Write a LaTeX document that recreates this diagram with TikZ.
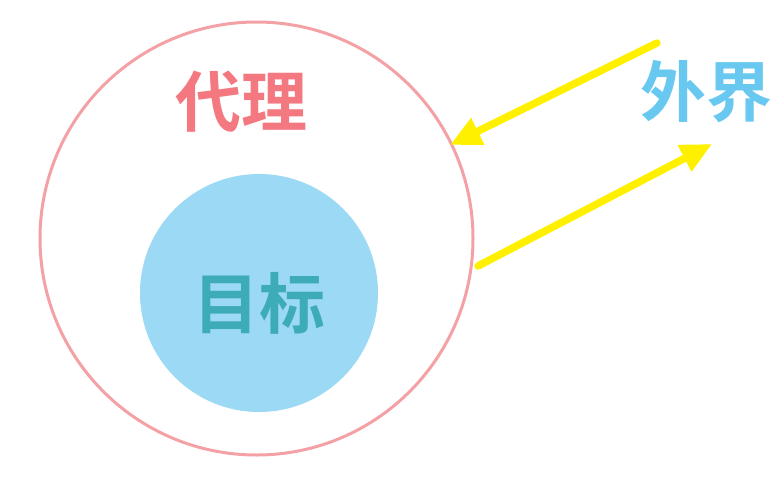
\documentclass[tikz,border=0pt]{standalone}
\usepackage{fontspec}
\newfontfamily\cjk{Noto Sans CJK SC Bold}
\usetikzlibrary{arrows.meta}

\definecolor{agentpink}{HTML}{F4A1A6}
\definecolor{agenttext}{HTML}{F37880}
\definecolor{goalblue}{HTML}{9BD9F4}
\definecolor{goaltext}{HTML}{3EABB8}
\definecolor{worldblue}{HTML}{68C8F0}
\definecolor{flowyellow}{HTML}{FFF000}

\begin{document}
\begin{tikzpicture}[
    x=1pt, y=-1pt,
    ring/.style={
        circle,
        draw=agentpink,
        line width=3pt,
        inner sep=0pt,
        minimum size=433pt
    },
    disc/.style={
        circle,
        fill=goalblue,
        inner sep=0pt,
        minimum size=238pt
    },
    label/.style={
        font=\cjk\fontsize{66}{66}\selectfont,
        inner sep=0pt
    },
    arrow/.style={
        -{Triangle[length=31pt,width=28pt]},
        line width=7.5pt,
        line cap=round,
        draw=flowyellow
    }
]

\useasboundingbox (0,0) rectangle (783,487);

\node[ring] (agent) at (256.5,238.5) {};
\node[disc] (goal) at (259,293) {};

\node[label, text=agenttext] (agentname) at (241,102) {代理};
\node[label, text=goaltext] (goalname) at (259,303) {目标};
\node[label, text=worldblue] (world) at (706,92) {外界};

\coordinate (inStart) at (657,43);
\coordinate (inEnd) at (450,145);
\coordinate (outStart) at (478,266);
\coordinate (outEnd) at (712,144);

\draw[arrow] (inStart) -- (inEnd);
\draw[arrow] (outStart) -- (outEnd);

\end{tikzpicture}
\end{document}
